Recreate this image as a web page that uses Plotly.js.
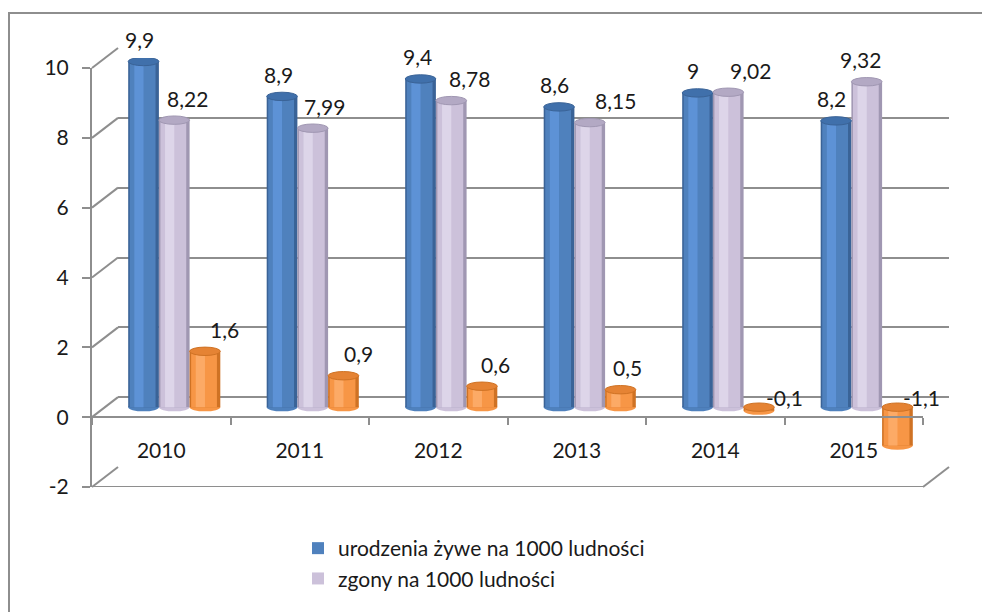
<!DOCTYPE html>
<html><head><meta charset="utf-8">
<script src="https://cdn.plot.ly/plotly-3.0.1.min.js"></script>
<style>html,body{margin:0;padding:0;background:#fff}#chart{width:982px;height:612px}</style>
</head><body><div id="chart"></div>
<script>
// ---- data ----
const years = ['2010', '2011', '2012', '2013', '2014', '2015'];
const births = [9.9, 8.9, 9.4, 8.6, 9.0, 8.2];
const deaths = [8.22, 7.99, 8.78, 8.15, 9.02, 9.32];
const growth = [1.6, 0.9, 0.6, 0.5, -0.1, -1.1];
const seriesNames = ['urodzenia żywe na 1000 ludności', 'zgony na 1000 ludności', 'przyrost naturalny'];
const yTickVals = [-2, 0, 2, 4, 6, 8, 10];
const yTickText = ['-2', '0', '2', '4', '6', '8', '10'];

// ---- style / geometry ----
const W = 982, H = 612;
const FX0 = 92, FX1 = 923, FY0 = 487, FY1 = 68;   // front frame (pixels)
const DX = 26, DY = 20;                           // depth offset of back wall
const YMIN = -2, YMAX = 10;
const GRID = '#8e8e8e', TXT = '#1a1a1a';
const FONT = 'Lato, "Open Sans", sans-serif';
const BW = 0.2217;                                 // bar width (category units)
const styles = [
  {edge: '#3a6397', body: '#4f81bd', hi: '#5d92d6', cap: '#4070ab'},
  {edge: '#a097b2', body: '#ccc1da', hi: '#ddd5e9', cap: '#b3a9c4'},
  {edge: '#cf7224', body: '#f79646', hi: '#fcaa66', cap: '#e58334'}
];
const labelShiftX = [[-4, -4, -3, -5, -5, -5], [13, 12, 18, 26, 22, -6], [20, 15, 14, 7, 26, 24]];

function xDom(s) { return [(FX0 + s * DX) / W, (FX1 + s * DX) / W]; }
function yDom(s) { return [1 - (FY0 - s * DY) / H, 1 - (FY1 - s * DY) / H]; }
function fy(v) { return FY0 + (v - YMIN) * (FY1 - FY0) / (YMAX - YMIN); }
const pxPerUnit = (FY0 - FY1) / (YMAX - YMIN);
const capH = 4.2 / pxPerUnit;

const allSeries = [births, deaths, growth];
const traces = [];
// back wall dummy
traces.push({type: 'scatter', x: years, y: years.map(() => null), xaxis: 'x', yaxis: 'y', hoverinfo: 'skip', showlegend: false});

const shapes = [];
const annotations = [];

allSeries.forEach((vals, k) => {
  const st = styles[k];
  const o = (k - 1.5) * BW;
  traces.push({type: 'bar', x: years, y: vals, width: BW, offset: o, xaxis: 'x2', yaxis: 'y2',
    marker: {color: st.edge, line: {width: 0}}, showlegend: false, hoverinfo: 'skip'});
  traces.push({type: 'bar', x: years, y: vals, width: 0.84 * BW, offset: o + 0.05 * BW, xaxis: 'x2', yaxis: 'y2',
    marker: {color: st.body, line: {width: 0}}, name: seriesNames[k], showlegend: k < 2, hoverinfo: 'skip'});
  traces.push({type: 'bar', x: years, y: vals, width: 0.3 * BW, offset: o + 0.2 * BW, xaxis: 'x2', yaxis: 'y2',
    marker: {color: st.hi, line: {width: 0}}, showlegend: false, hoverinfo: 'skip'});
  vals.forEach((v, i) => {
    const top = Math.max(v, 0), bot = Math.min(v, 0);
    shapes.push({type: 'circle', xref: 'x2', yref: 'y2', layer: 'below',
      x0: i + o, x1: i + o + BW, y0: bot - capH, y1: bot + capH,
      fillcolor: st.body, line: {width: 0}});
    shapes.push({type: 'circle', xref: 'x2', yref: 'y2', layer: 'above',
      x0: i + o, x1: i + o + BW, y0: top - capH, y1: top + capH,
      fillcolor: st.cap, line: {width: 1, color: st.edge}});
    annotations.push({xref: 'x2', yref: 'y2', x: i + o + BW / 2, y: top,
      text: String(v).replace('.', ','), showarrow: false,
      xanchor: 'center', yanchor: 'middle',
      xshift: labelShiftX[k][i], yshift: v >= 0 ? 22 : 10,
      font: {family: FONT, size: 21, color: TXT}});
  });
});

// front frame dummy (category axis)
traces.push({type: 'scatter', x: years, y: years.map(() => 0), xaxis: 'x3', yaxis: 'y3', mode: 'markers',
  marker: {opacity: 0}, hoverinfo: 'skip', showlegend: false});

// front floor edge at the minimum value
shapes.push({type: 'line', xref: 'x3', yref: 'y3', layer: 'below',
  x0: -0.5, x1: years.length - 0.5, y0: YMIN, y1: YMIN, line: {color: GRID, width: 2}});
// 3D frame connectors
yTickVals.forEach(v => {
  shapes.push({type: 'line', xref: 'paper', yref: 'paper', layer: 'below',
    x0: FX0 / W, y0: 1 - fy(v) / H, x1: (FX0 + DX) / W, y1: 1 - (fy(v) - DY) / H,
    line: {color: GRID, width: 2}});
});
shapes.push({type: 'line', xref: 'paper', yref: 'paper', layer: 'below',
  x0: FX1 / W, y0: 1 - fy(YMIN) / H, x1: (FX1 + DX) / W, y1: 1 - (fy(YMIN) - DY) / H,
  line: {color: GRID, width: 2}});
// outer chart border
shapes.push({type: 'rect', xref: 'paper', yref: 'paper', layer: 'below',
  x0: 9 / W, y0: 1 - 13 / H, x1: 1.05, y1: -0.05, line: {color: GRID, width: 2}, fillcolor: 'rgba(0,0,0,0)'});

const layout = {
  width: W, height: H,
  margin: {l: 0, r: 0, t: 0, b: 0, pad: 0},
  paper_bgcolor: '#ffffff', plot_bgcolor: 'rgba(0,0,0,0)',
  barmode: 'overlay',
  font: {family: FONT, size: 21, color: TXT},
  // back wall
  xaxis: {domain: xDom(1), anchor: 'y', range: [-0.5, 5.5], visible: false, fixedrange: true},
  yaxis: {domain: yDom(1), anchor: 'x', range: [YMIN, YMAX], tickvals: yTickVals, showticklabels: false,
    ticks: '', showgrid: true, gridcolor: GRID, gridwidth: 2, zeroline: false, showline: false, fixedrange: true},
  // bars (mid depth)
  xaxis2: {domain: xDom(0.5), anchor: 'y2', type: 'category', range: [-0.5, 5.5], visible: false, fixedrange: true},
  yaxis2: {domain: yDom(0.5), anchor: 'x2', range: [YMIN, YMAX], visible: false, fixedrange: true},
  // front frame
  xaxis3: {domain: xDom(0), anchor: 'free', position: 1 - fy(0) / H, type: 'category', range: [-0.5, 5.5],
    tickson: 'boundaries', ticks: 'outside', ticklen: 7, tickwidth: 2, tickcolor: GRID,
    ticklabelstandoff: 19, tickfont: {family: FONT, size: 21, color: TXT},
    showline: false, showgrid: false, zeroline: false, fixedrange: true},
  yaxis3: {domain: yDom(0), anchor: 'x3', range: [YMIN, YMAX], tickvals: yTickVals, ticktext: yTickText,
    showline: true, linecolor: GRID, linewidth: 2, ticks: 'outside', ticklen: 8, tickwidth: 2, tickcolor: GRID,
    ticklabelstandoff: 9, tickfont: {family: FONT, size: 21, color: TXT},
    showgrid: false, zeroline: true, zerolinecolor: GRID, zerolinewidth: 2, fixedrange: true},
  showlegend: true,
  legend: {x: 298 / W, xanchor: 'left', y: 1 - 528 / H, yanchor: 'top', orientation: 'v',
    bgcolor: 'rgba(0,0,0,0)', font: {family: FONT, size: 21, color: TXT}, traceorder: 'normal'},
  shapes: shapes,
  annotations: annotations
};

Plotly.newPlot('chart', traces, layout, {displayModeBar: false, staticPlot: true});
</script></body></html>
